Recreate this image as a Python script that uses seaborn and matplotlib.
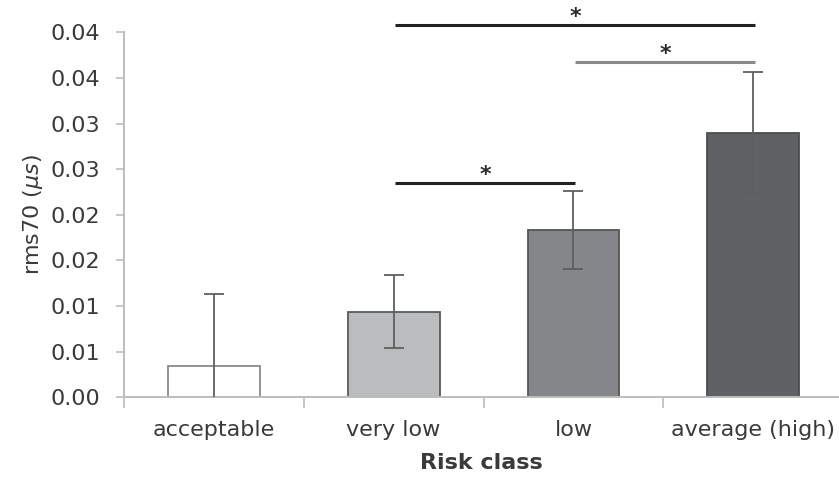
import numpy as np
import pandas as pd
import matplotlib
matplotlib.use('Agg')
import matplotlib.pyplot as plt
import seaborn as sns

# values
categories = ['acceptable', 'very low', 'low', 'average (high)']
rms70 = [0.00346, 0.00938, 0.01833, 0.0290]
rms70_err = [0.0079, 0.0040, 0.0043, 0.0066]
bar_colors = ['#ffffff', '#bbbcbe', '#85868a', '#606165']
edge_colors = ['#8a8a8a', '#5a5a5a', '#555555', '#4d4d4d']

y_ticks = [0.0, 0.005, 0.010, 0.015, 0.020, 0.025, 0.030, 0.035, 0.040]
y_tick_labels = ['0.00', '0.01', '0.01', '0.02', '0.02', '0.03', '0.03', '0.04', '0.04']

# significance brackets: (from category, to category, level, colour)
sig_from = [1, 2, 1]
sig_to = [3, 3, 2]
sig_level = [0.0408, 0.03678, 0.02348]
sig_color = ['#222222', '#8a8a8a', '#222222']

df = pd.DataFrame({'risk': categories, 'rms70': rms70})

#%%
sns.set_theme(style='white')
plt.rcParams['font.family'] = ['DejaVu Sans']

fig = plt.figure(figsize=(8.39, 4.78), dpi=100)
ax = fig.add_axes([124 / 839, 80.7 / 478, 715 / 839, 365 / 478])

sns.barplot(data=df, x='risk', y='rms70', hue='risk', palette=bar_colors,
            width=0.51, legend=False, ax=ax, saturation=1)
for patch, ec in zip(ax.patches, edge_colors):
    patch.set_edgecolor(ec)
    patch.set_linewidth(1.3)

ax.errorbar(np.arange(len(categories)), rms70, yerr=rms70_err, fmt='none',
            ecolor='#5f5f5f', elinewidth=1.3, capsize=7, capthick=1.3, zorder=5)

# brackets with stars (drawn above the axes top as well)
for a, b, lvl, col in zip(sig_from, sig_to, sig_level, sig_color):
    ax.plot([a + 0.01, b + 0.01], [lvl, lvl], color=col, lw=2.2,
            clip_on=False, solid_capstyle='butt')
    ax.text((a + b) / 2 + 0.01, lvl + 0.0002, '*', ha='center', va='baseline',
            fontsize=16, fontweight='bold', color='#2a2a2a', clip_on=False)

ax.set_xlim(-0.5, 3.477)
ax.set_ylim(0, 0.04)
ax.set_yticks(y_ticks)
ax.set_yticklabels(y_tick_labels)
ax.set_xticks(range(len(categories)))
ax.set_xticklabels(categories)
ax.set_xticks(np.arange(-0.5, 3.5, 1.0), minor=True)

ax.tick_params(axis='x', which='major', length=0, pad=16, labelsize=16,
               labelcolor='#3a3a3a')
ax.tick_params(axis='x', which='minor', length=8, width=1.2, color='#bdbdbd',
               direction='out', bottom=True)
ax.tick_params(axis='y', length=6, width=1.2, color='#bdbdbd', direction='out',
               pad=11, labelsize=16, labelcolor='#3a3a3a', left=True)

for s in ['top', 'right']:
    ax.spines[s].set_visible(False)
for s in ['left', 'bottom']:
    ax.spines[s].set_color('#bdbdbd')
    ax.spines[s].set_linewidth(1.4)

ax.set_xlabel('Risk class', fontsize=16, fontweight='bold', color='#3a3a3a',
              labelpad=10)
ax.set_ylabel(r'rms70 ($\mu s$)', fontsize=16, color='#3a3a3a', labelpad=4)

fig.savefig('out.png', dpi=100)
